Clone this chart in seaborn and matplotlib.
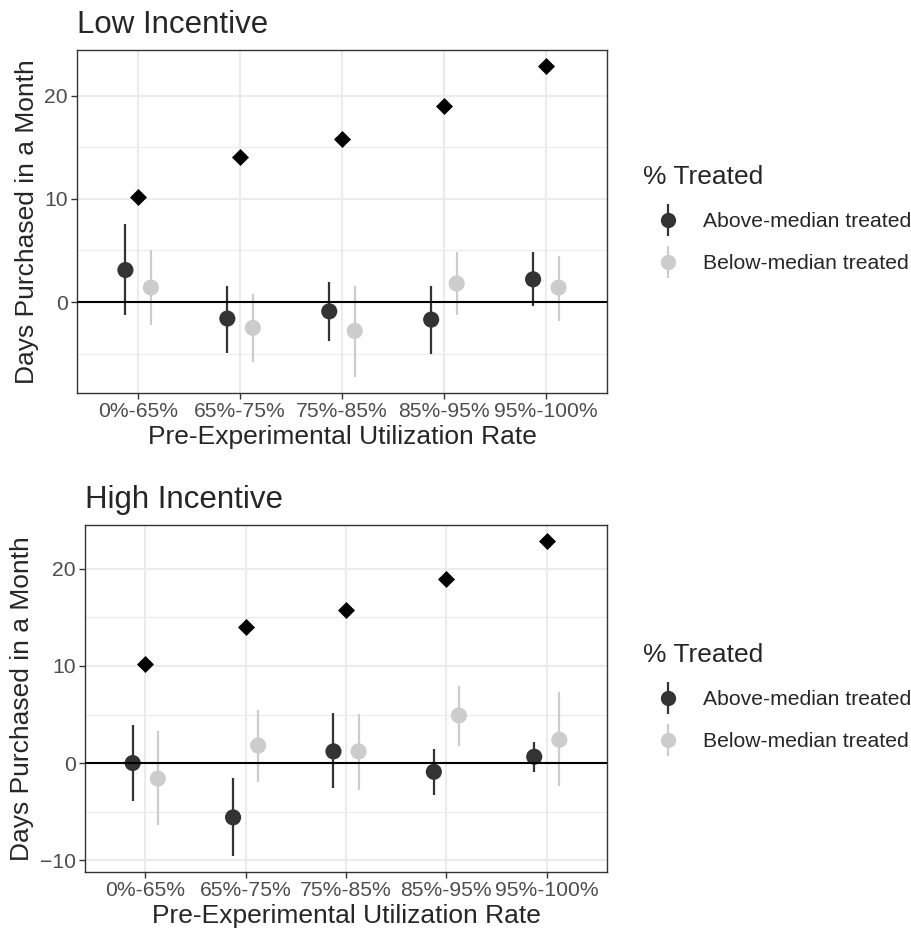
import numpy as np
import pandas as pd
import matplotlib
matplotlib.use("Agg")
import matplotlib.pyplot as plt
import seaborn as sns
from matplotlib.lines import Line2D
from matplotlib.legend_handler import HandlerTuple
from matplotlib.ticker import MultipleLocator

categories = ["0%-65%", "65%-75%", "75%-85%", "85%-95%", "95%-100%"]
groups = ["Above-median treated", "Below-median treated"]

control_mean = [10.2, 14.0, 15.8, 19.0, 22.9]

low_above = [3.1, -1.6, -0.9, -1.7, 2.2]
low_above_lo = [-1.3, -4.9, -3.8, -5.0, -0.35]
low_above_hi = [7.6, 1.6, 1.9, 1.6, 4.8]
low_below = [1.4, -2.5, -2.8, 1.8, 1.4]
low_below_lo = [-2.2, -5.8, -7.3, -1.25, -1.8]
low_below_hi = [5.0, 0.8, 1.6, 4.8, 4.5]

high_above = [0.0, -5.6, 1.2, -0.9, 0.65]
high_above_lo = [-3.9, -9.6, -2.6, -3.3, -0.9]
high_above_hi = [3.95, -1.55, 5.2, 1.45, 2.15]
high_below = [-1.6, 1.8, 1.2, 4.9, 2.4]
high_below_lo = [-6.4, -2.0, -2.8, 1.8, -2.4]
high_below_hi = [3.3, 5.5, 5.1, 7.9, 7.3]

sns.set_style("white")
plt.rcParams["font.family"] = ["Liberation Sans", "DejaVu Sans"]

DARK = "#333333"
LIGHT = "#CCCCCC"
palette = dict(zip(groups, [DARK, LIGHT]))

W, H = 912, 940
fig = plt.figure(figsize=(W / 100, H / 100), dpi=100)


def add_axes(left, top, right, bottom):
    return fig.add_axes([left / W, 1 - bottom / H, (right - left) / W, (bottom - top) / H])


def draw(ax, above, alo, ahi, below, blo, bhi, title):
    x = np.arange(1, 6)
    df = pd.DataFrame({
        "pos": np.concatenate([x - 0.125, x + 0.125]),
        "est": above + below,
        "lo": alo + blo,
        "hi": ahi + bhi,
        "group": [groups[0]] * 5 + [groups[1]] * 5,
    })
    for g in groups:
        sub = df[df.group == g]
        ax.vlines(sub.pos, sub.lo, sub.hi, color=palette[g], lw=1.6, zorder=2)
    sns.scatterplot(data=df, x="pos", y="est", hue="group", palette=palette,
                    s=135, linewidth=0, legend=False, ax=ax, zorder=3)
    sns.scatterplot(x=x, y=control_mean, marker="D", color="black",
                    s=75, linewidth=0, ax=ax, zorder=3)
    ax.axhline(0, color="black", lw=1.5, zorder=4)

    allv = np.array(alo + blo + ahi + bhi + control_mean)
    lo, hi = allv.min(), allv.max()
    pad = (hi - lo) * 0.05
    ax.set_ylim(lo - pad, hi + pad)
    ax.set_xlim(0.4, 5.6)
    ax.set_xticks(x)
    ax.set_xticklabels(categories)
    ax.yaxis.set_major_locator(MultipleLocator(10))
    ax.yaxis.set_minor_locator(MultipleLocator(5))
    ax.grid(which="major", color="#EBEBEB", lw=1.5)
    ax.grid(which="minor", axis="y", color="#EBEBEB", lw=0.8)
    ax.set_axisbelow(True)
    for s in ax.spines.values():
        s.set_color(DARK)
        s.set_linewidth(1.0)
        s.set_visible(True)
    ax.tick_params(which="major", length=4, width=1.0, color=DARK,
                   labelsize=15.2, labelcolor="#4D4D4D", pad=2.5,
                   left=True, bottom=True)
    ax.tick_params(which="minor", length=0)
    ax.set_xlabel("Pre-Experimental Utilization Rate", fontsize=19, labelpad=3)
    ax.set_ylabel("Days Purchased in a Month", fontsize=19, labelpad=4)
    ax.set_title(title, loc="left", fontsize=22.5, pad=12)


ax1 = add_axes(77, 50, 607, 393)
draw(ax1, low_above, low_above_lo, low_above_hi,
     low_below, low_below_lo, low_below_hi, "Low Incentive")
ax2 = add_axes(85, 525, 607, 872)
draw(ax2, high_above, high_above_lo, high_above_hi,
     high_below, high_below_lo, high_below_hi, "High Incentive")


def make_legend(ytop):
    handles = []
    for g in groups:
        c = palette[g]
        bar = Line2D([], [], linestyle="none", marker="|", markersize=23,
                     markeredgewidth=1.6, color=c)
        dot = Line2D([], [], linestyle="none", marker="o", markersize=11,
                     markeredgewidth=0, color=c)
        handles.append((bar, dot))
    leg = fig.legend(handles, groups, handler_map={tuple: HandlerTuple(ndivide=1)},
                     loc="upper left", bbox_to_anchor=(624 / W, 1 - ytop / H),
                     frameon=False, fontsize=15.2, title="% Treated",
                     title_fontsize=19, alignment="left", handlelength=2.37,
                     handletextpad=0.47, labelspacing=1.09)
    return leg


make_legend(146)
make_legend(624)

fig.savefig("out.png", dpi=100)
